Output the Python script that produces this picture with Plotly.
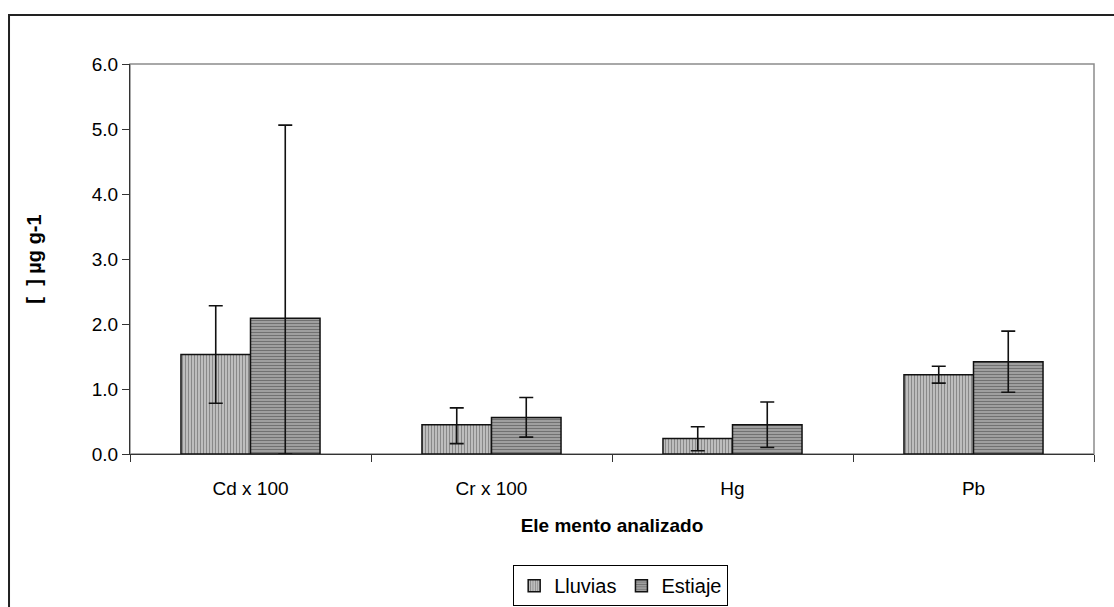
import plotly.graph_objects as go

categories = ["Cd x 100", "Cr x 100", "Hg", "Pb"]
lluvias = [1.53, 0.45, 0.24, 1.22]
lluvias_err_plus = [0.75, 0.26, 0.18, 0.13]
lluvias_err_minus = [0.75, 0.29, 0.19, 0.13]
estiaje = [2.09, 0.56, 0.45, 1.42]
estiaje_err_plus = [2.97, 0.31, 0.35, 0.47]
estiaje_err_minus = [2.09, 0.30, 0.35, 0.47]
y_ticks = [0, 1, 2, 3, 4, 5, 6]

FONT = "Liberation Sans, Arial, sans-serif"

fig = go.Figure()
fig.add_trace(go.Bar(
    name="Lluvias", x=categories, y=lluvias,
    marker=dict(color="#bdbdbd", line=dict(color="#111", width=1.5),
                pattern=dict(shape="|", fgcolor="#4a4a4a", bgcolor="#c8c8c8", size=3, solidity=0.45)),
    error_y=dict(type="data", symmetric=False, array=lluvias_err_plus, arrayminus=lluvias_err_minus,
                 color="#111", thickness=1.6, width=7),
))
fig.add_trace(go.Bar(
    name="Estiaje", x=categories, y=estiaje,
    marker=dict(color="#8a8a8a", line=dict(color="#111", width=1.5),
                pattern=dict(shape="-", fgcolor="#3a3a3a", bgcolor="#a8a8a8", size=3, solidity=0.45)),
    error_y=dict(type="data", symmetric=False, array=estiaje_err_plus, arrayminus=estiaje_err_minus,
                 color="#111", thickness=1.6, width=7),
))

fig.update_layout(
    width=1114, height=607,
    margin=dict(l=130, r=20, t=64, b=153, autoexpand=False),
    paper_bgcolor="white", plot_bgcolor="white",
    barmode="group", bargap=0.423, bargroupgap=0,
    font=dict(family=FONT, size=19, color="black"),
    showlegend=True,
    legend=dict(orientation="h", x=0.509, xanchor="center", y=-0.285, yanchor="top",
                bordercolor="black", borderwidth=1, font=dict(size=20),
                itemwidth=30, tracegroupgap=0),
    xaxis=dict(
        type="category", showgrid=False, showline=True, linecolor="#333", linewidth=1.2,
        ticks="outside", tickson="boundaries", ticklen=7, tickcolor="#333",
        ticklabelstandoff=17, automargin=False,
        title=dict(text="<b>Ele mento analizado</b>", font=dict(size=19), standoff=20),
        tickfont=dict(size=19),
    ),
    yaxis=dict(
        range=[0, 6], tickvals=y_ticks, tickformat=".1f", showgrid=False,
        showline=True, linecolor="#333", linewidth=1.2, automargin=False,
        ticks="outside", ticklen=7, tickcolor="#333", tickfont=dict(size=19),
        title=dict(text="<b>[  ] µg g-1</b>", font=dict(size=20), standoff=44),
        zeroline=False,
    ),
    shapes=[
        dict(type="rect", xref="paper", yref="paper", x0=0, x1=1, y0=0, y1=1,
             line=dict(color="#8c8c8c", width=1.5), layer="below"),
        dict(type="rect", xref="paper", yref="paper", x0=-0.1255, x1=1.2, y0=-0.5, y1=1.1256,
             line=dict(color="#222", width=2), layer="below"),
    ],
)

fig.write_html("out.html")
